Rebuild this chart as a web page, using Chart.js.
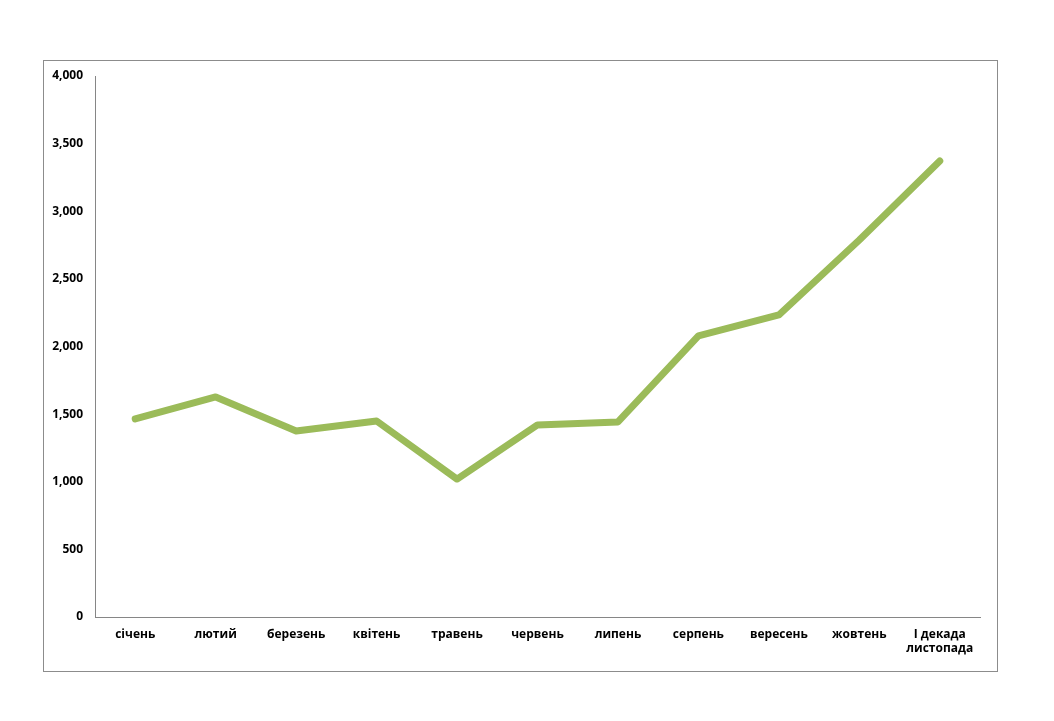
<!DOCTYPE html>
<html><head><meta charset="utf-8">
<script src="https://cdn.jsdelivr.net/npm/chart.js@4"></script>
<style>html,body{margin:0;padding:0;background:#fff}#wrap{width:1054px;height:721px;position:relative}</style>
</head><body>
<div id="wrap"><canvas id="c" width="1054" height="721"></canvas></div>
<script>
// months and values
const months = ['січень', 'лютий', 'березень', 'квітень', 'травень', 'червень', 'липень', 'серпень', 'вересень', 'жовтень', ['І декада', 'листопада']];
const values = [1464, 1627, 1375, 1449, 1020, 1420, 1442, 2078, 2233, 2787, 3372];
const yTicks = [0, 500, 1000, 1500, 2000, 2500, 3000, 3500, 4000];

const frame = {
  id: 'frame',
  beforeDraw(chart) {
    const ctx = chart.ctx;
    ctx.save();
    ctx.strokeStyle = '#8c8c8c';
    ctx.lineWidth = 1;
    ctx.strokeRect(43.5, 60.5, 954, 611);
    ctx.restore();
  }
};

Chart.defaults.font.family = '"Open Sans", sans-serif';
new Chart(document.getElementById('c'), {
  type: 'line',
  data: {
    labels: months,
    datasets: [{
      data: values,
      borderColor: '#9bbb59',
      borderWidth: 7,
      pointRadius: 0,
      tension: 0,
      borderCapStyle: 'round',
      borderJoinStyle: 'round'
    }]
  },
  options: {
    responsive: false,
    animation: false,
    layout: { padding: { left: 40, right: 74, top: 76, bottom: 44 } },
    plugins: { legend: { display: false }, tooltip: { enabled: false } },
    scales: {
      x: {
        offset: true,
        grid: { display: false, drawTicks: false },
        border: { color: '#868686' },
        ticks: { color: '#000', font: { size: 12, weight: 'bold' }, maxRotation: 0, padding: 10 },
        afterFit(s) { s.height = 60; }
      },
      y: {
        min: 0, max: 4000,
        afterBuildTicks(s) { s.ticks = yTicks.map(v => ({ value: v })); },
        grid: { display: false, drawTicks: false },
        border: { color: '#868686' },
        ticks: { color: '#000', font: { size: 12, weight: 'bold' }, padding: 12 },
        afterFit(s) { s.width = 55; }
      }
    }
  },
  plugins: [frame]
});
</script>
</body></html>
